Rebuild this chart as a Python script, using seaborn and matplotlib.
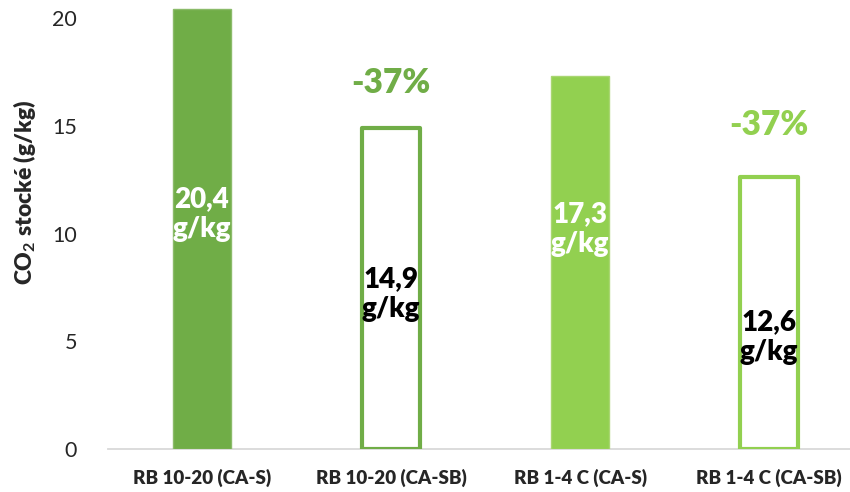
import numpy as np
import pandas as pd
import matplotlib.pyplot as plt
import seaborn as sns

sns.set_style("white")
plt.rcParams['font.family'] = ['Lato', 'DejaVu Sans']
plt.rcParams['mathtext.fontset'] = 'custom'
plt.rcParams['mathtext.bf'] = 'Lato:bold'
plt.rcParams['mathtext.rm'] = 'Lato'

# data
categories = ['RB 10-20 (CA-S)', 'RB 10-20 (CA-SB)', 'RB 1-4 C (CA-S)', 'RB 1-4 C (CA-SB)']
values = [20.4, 14.9, 17.3, 12.6]
value_labels = ['20,4\ng/kg', '14,9\ng/kg', '17,3\ng/kg', '12,6\ng/kg']
label_y = [10.9, 7.2, 10.2, 5.2]
reductions = ['', '-37%', '', '-37%']
reduction_y = [0, 16.98, 0, 15.05]

dark_green = '#70AD47'
light_green = '#92D050'
bar_colors = [dark_green, dark_green, light_green, light_green]
edge_colors = ['#8BBB6A', dark_green, '#A9D672', light_green]
hollow = [False, True, False, True]

df = pd.DataFrame({'cat': categories, 'val': values})

fig = plt.figure(figsize=(8.5, 4.92), dpi=100)
ax = fig.add_axes([107.5 / 850, 43 / 492, 756 / 850, 449 / 492])

sns.barplot(data=df, x='cat', y='val', hue='cat', palette=bar_colors,
            saturation=1, legend=False, width=0.31, ax=ax)

for i, patch in enumerate(ax.patches[:4]):
    if hollow[i]:
        patch.set_facecolor('white')
        patch.set_edgecolor(edge_colors[i])
        patch.set_linewidth(3.0)
        patch.set_joinstyle('round')
    else:
        patch.set_edgecolor(edge_colors[i])
        patch.set_linewidth(1.0)

# value labels inside bars
for i, (lab, y) in enumerate(zip(value_labels, label_y)):
    col = 'white' if not hollow[i] else 'black'
    ax.text(i, y, lab, ha='center', va='center', fontsize=20,
            fontweight='heavy', color=col, linespacing=1.2)

# reduction annotations
for i, txt in enumerate(reductions):
    if txt:
        ax.text(i, reduction_y[i], txt, ha='center', va='center',
                fontsize=24, fontweight='heavy', color=bar_colors[i])

ax.set_xlim(-0.5, 3.5)
ax.set_ylim(0, 449 / 21.55)
ax.set_yticks([0, 5, 10, 15, 20])
ax.tick_params(axis='y', labelsize=15.5, length=0, pad=22)
ax.tick_params(axis='x', labelsize=13.5, length=0, pad=14)
for lab in ax.get_xticklabels():
    lab.set_fontweight('heavy')
ax.set_xlabel('')
ax.set_ylabel(r'CO$_\mathbf{2}$ stocké (g/kg)', fontsize=16.5, fontweight='heavy')
ax.yaxis.set_label_coords(-0.092, 0.572)

sns.despine(ax=ax, left=True, right=True, top=True)
ax.spines['bottom'].set_color('#D9D9D9')
ax.spines['bottom'].set_linewidth(1.3)
ax.spines['bottom'].set_zorder(0)

fig.savefig('out.png', dpi=100, facecolor='white')
